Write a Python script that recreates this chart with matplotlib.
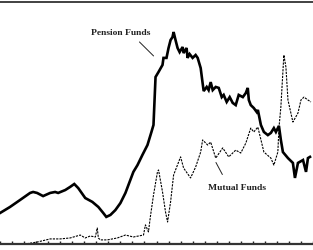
import matplotlib.pyplot as plt

# Pension funds (thick solid line), x in years from start, y on a 0-100 scale
pension_x = [0.0, 0.83, 1.67, 2.5, 2.75, 3.08, 3.58, 4.17, 4.58, 4.83, 5.42, 5.83,
             6.17, 6.5, 7.08, 7.67, 8.17, 8.58, 8.83, 9.17, 9.58, 10.0, 10.42,
             10.67, 11.08, 11.42, 11.83, 12.25, 12.58, 12.75, 12.92, 13.17, 13.5,
             13.58, 13.83, 14.0, 14.17, 14.33, 14.42, 14.58, 14.75, 14.92, 15.17,
             15.25, 15.5, 15.58, 15.75, 16.0, 16.25, 16.42, 16.67, 16.83, 16.92,
             17.17, 17.33, 17.5, 17.67, 17.92, 18.17, 18.42, 18.58, 18.83, 19.08,
             19.33, 19.58, 19.83, 20.17, 20.42, 20.58, 20.67, 20.83, 21.08, 21.33,
             21.42, 21.67, 21.92, 22.25, 22.5, 22.75, 22.92, 23.17, 23.33, 23.5,
             23.92, 24.33, 24.5, 24.75, 25.17, 25.42, 25.58, 25.75]
pension_y = [12.8, 15.3, 18.2, 21.1, 21.5, 21.1, 19.8, 21.1, 21.5, 21.1, 22.3, 23.6,
             24.8, 23.1, 19.0, 17.4, 15.3, 12.8, 11.2, 12.0, 14.0, 16.9, 21.1,
             24.4, 29.8, 32.6, 36.8, 40.9, 46.3, 49.2, 69.0, 71.1, 74.0,
             76.9, 76.9, 81.0, 84.3, 85.5, 87.6, 84.3, 81.0, 79.3, 81.4,
             78.9, 81.0, 76.9, 78.5, 76.9, 78.1, 76.9, 72.7, 66.5, 63.2,
             64.9, 63.6, 66.9, 63.6, 64.9, 64.5, 60.7, 61.6, 58.7, 60.7,
             58.3, 57.4, 61.6, 60.7, 62.4, 64.5, 59.5, 57.4, 56.2, 54.5,
             55.4, 49.2, 46.3, 45.0, 45.9, 47.9, 46.3, 48.8, 43.0, 38.0,
             35.5, 33.5, 27.3, 33.5, 34.7, 29.8, 35.5, 36.0]

# Mutual funds (thin dashed line)
mutual_x = [0.0, 2.08, 3.08, 4.17, 5.0, 5.83, 6.67, 7.08, 7.5, 7.92, 8.08, 8.17,
            8.33, 8.92, 9.75, 10.42, 11.08, 11.92, 12.08, 12.33, 12.5, 12.75, 13.08,
            13.17, 13.5, 13.75, 13.92, 14.17, 14.42, 15.0, 15.25, 15.83, 16.25,
            16.67, 16.83, 17.25, 17.5, 17.92, 18.5, 19.0, 19.58, 20.0, 20.42,
            20.83, 21.08, 21.42, 21.92, 22.5, 22.75, 23.08, 23.17, 23.33, 23.58,
            23.75, 23.92, 24.33, 24.75, 25.0, 25.25, 25.58, 25.83]
mutual_y = [0.0, 0.0, 0.8, 2.1, 2.1, 2.5, 3.7, 2.5, 3.3, 2.9, 6.6, 2.5,
            1.7, 1.7, 2.5, 3.7, 2.9, 3.7, 7.9, 5.0, 11.6, 20.2, 29.8,
            30.6, 21.5, 13.2, 9.1, 17.4, 28.5, 36.0, 31.4, 27.3, 31.8,
            38.0, 43.0, 40.9, 42.1, 35.5, 39.7, 36.0, 38.8, 37.6, 41.7,
            47.9, 46.3, 48.3, 38.0, 35.5, 32.6, 38.0, 47.9, 56.6, 78.1,
            73.1, 59.5, 50.4, 54.1, 59.5, 60.7, 59.5, 58.7]

fig = plt.figure(figsize=(3.13, 2.5), dpi=100)
ax = fig.add_axes([0, 0.024, 1, 0.968])

ax.plot(pension_x, pension_y, color="black", lw=1.9, solid_joinstyle="miter")
ax.plot(mutual_x, mutual_y, color="black", lw=0.8, linestyle=(0, (2, 1)))

ax.set_xlim(0, 26)
ax.set_ylim(0, 100)

# Labels with leader lines
lab_font = dict(family="Liberation Serif", weight="bold", size=6.8, color="#222222")
ax.text(10.0, 87.2, "Pension Funds", ha="center", va="center", **lab_font)
ax.annotate("", xy=(12.92, 76.9), xytext=(11.42, 84.3),
            arrowprops=dict(arrowstyle="-", lw=0.7, color="#222222"))
ax.text(19.67, 23.1, "Mutual Funds", ha="center", va="center", **lab_font)
ax.annotate("", xy=(18.58, 27.7), xytext=(17.83, 34.7),
            arrowprops=dict(arrowstyle="-", lw=0.7, color="#222222"))

# Frame: only top and bottom lines
ax.spines["left"].set_visible(False)
ax.spines["right"].set_visible(False)
ax.spines["top"].set_linewidth(1.3)
ax.spines["top"].set_color("#333333")
ax.spines["bottom"].set_linewidth(1.6)
ax.spines["bottom"].set_color("#333333")
ax.set_xticks(range(27))
ax.tick_params(axis="x", direction="in", length=2.5, width=1.0, color="#222222",
               labelbottom=False)
ax.set_yticks([])

fig.savefig("out.png", dpi=100)
